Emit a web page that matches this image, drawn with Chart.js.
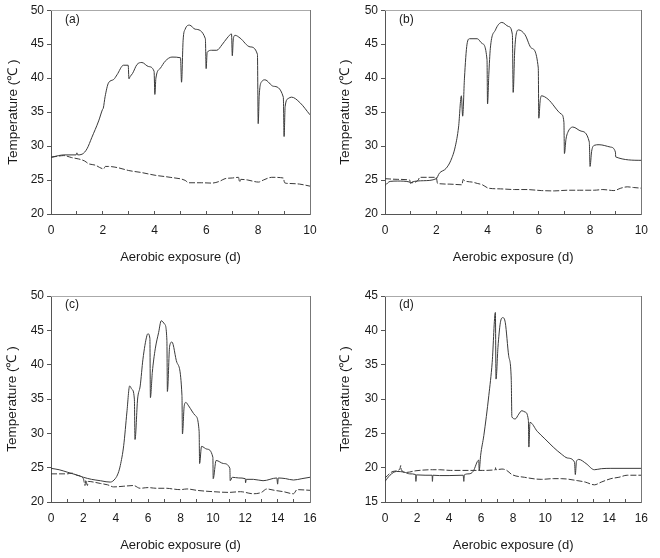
<!DOCTYPE html>
<html>
<head>
<meta charset="utf-8">
<title>Temperature during aerobic exposure</title>
<script src="https://cdn.jsdelivr.net/npm/chart.js@4.4.1/dist/chart.umd.min.js"></script>
<style>
  body { margin: 0; background: #fff; }
  #wrap { position: relative; width: 660px; height: 558px; }
  canvas { position: absolute; }
</style>
</head>
<body>
<div id="wrap">
  <canvas id="chart-a" width="330" height="279" style="left:0;top:0"></canvas>
  <canvas id="chart-b" width="330" height="279" style="left:330px;top:0"></canvas>
  <canvas id="chart-c" width="330" height="279" style="left:0;top:279px"></canvas>
  <canvas id="chart-d" width="330" height="279" style="left:330px;top:279px"></canvas>
</div>
<script>
'use strict';

/** Data */

// (a)
let aSolidX = [0, 0.3, 0.5, 0.97, 1.0, 1.03, 1.2, 1.39, 1.58, 1.84,
  1.99, 2.02, 2.09, 2.22, 2.42, 2.55, 2.8, 2.98, 3.01, 3.05,
  3.15, 3.32, 3.51, 3.77, 3.98, 4.01, 4.05, 4.22, 4.41, 4.67,
  5.0, 5.04, 5.1, 5.18, 5.35, 5.57, 5.96, 5.99, 6.03, 6.2,
  6.4, 6.6, 6.8, 6.97, 7.0, 7.04, 7.11, 7.3, 7.69, 7.97,
  8.0, 8.04, 8.14, 8.26, 8.59, 8.97, 9.0, 9.04, 9.16, 9.29,
  9.61, 10];
let aSolidY = [28.35, 28.6, 28.7, 28.7, 29.0, 28.7, 28.8, 29.6, 31.3, 33.7,
  35.4, 35.6, 37.3, 39.3, 39.8, 40.5, 41.9, 41.9, 39.9, 40.2,
  40.7, 42.0, 42.3, 41.7, 41.0, 37.6, 40.0, 41.45, 42.5, 43.1,
  43.0, 39.4, 45.5, 47.2, 47.8, 47.2, 45.8, 41.4, 43.8, 44.1,
  44.1, 44.9, 45.9, 46.5, 43.3, 45.8, 46.3, 45.9, 44.6, 43.5,
  33.3, 37.5, 39.5, 39.75, 38.8, 37.2, 31.4, 35.8, 37.0, 37.2,
  36.4, 34.6];
let aDashX = [0, 0.25, 0.49, 0.8, 1.07, 1.3, 1.45, 1.7, 2.03, 2.1,
  2.22, 2.6, 3.0, 3.5, 4.02, 4.6, 5.18, 5.31, 5.8, 6.21,
  6.5, 6.72, 7.0, 7.24, 7.28, 7.33, 7.6, 8.01, 8.2, 8.52,
  8.97, 9.02, 9.16, 9.6, 10];
let aDashY = [28.35, 28.5, 28.6, 28.3, 28.1, 27.8, 27.4, 27.2, 26.65, 27.0,
  27.0, 26.8, 26.4, 26.1, 25.7, 25.4, 24.95, 24.6, 24.6, 24.55,
  24.8, 25.2, 25.3, 25.4, 24.7, 25.1, 25.0, 24.7, 25.0, 25.4,
  25.3, 24.6, 24.5, 24.4, 24.1];

// (b)
let bSolidX = [0, 0.2, 0.5, 0.97, 1.0, 1.05, 1.5, 2.0, 2.12, 2.38,
  2.57, 2.74, 2.87, 2.98, 3.03, 3.1, 3.2, 3.3, 3.6, 3.79,
  3.98, 4.0, 4.05, 4.11, 4.31, 4.56, 4.82, 4.97, 5.0, 5.06,
  5.12, 5.21, 5.46, 5.72, 5.98, 6.0, 6.05, 6.1, 6.36, 6.88,
  6.98, 7.0, 7.06, 7.13, 7.33, 7.65, 7.97, 8.0, 8.06, 8.16,
  8.35, 8.8, 8.99, 9.0, 10];
let bSolidY = [24.2, 24.8, 24.85, 24.7, 24.5, 24.7, 24.9, 25.2, 26.0, 26.7,
  27.9, 29.9, 32.8, 37.4, 34.4, 40.0, 45.0, 45.8, 45.8, 45.1,
  42.7, 36.2, 40.5, 44.4, 47.1, 48.2, 47.6, 46.4, 37.9, 44.0,
  46.5, 47.1, 46.4, 44.4, 41.5, 34.1, 36.5, 37.4, 36.9, 34.7,
  33.5, 28.9, 31.0, 32.0, 32.8, 32.2, 30.6, 27.0, 29.2, 30.1,
  30.2, 29.85, 29.1, 28.4, 27.9];
let bDashX = [0, 0.5, 0.96, 1.0, 1.3, 1.35, 2.0, 2.05, 2.5, 3.0,
  3.05, 3.1, 3.4, 3.6, 3.8, 4.04, 4.5, 5.06, 5.5, 6.1,
  6.6, 7.13, 7.6, 8.16, 8.5, 8.93, 9.2, 9.45, 9.7, 10];
let bDashY = [25.2, 25.1, 25.0, 24.6, 25.0, 25.4, 25.4, 24.5, 24.4, 24.3,
  25.1, 24.9, 24.7, 24.5, 24.3, 23.8, 23.7, 23.6, 23.6, 23.45,
  23.4, 23.5, 23.5, 23.5, 23.6, 23.45, 23.8, 24.0, 23.9, 23.8];

// (c)
let cSolidX = [0, 0.5, 1.0, 1.5, 2.0, 2.5, 3.05, 3.4, 3.66, 3.97,
  4.15, 4.28, 4.49, 4.69, 4.86, 5.0, 5.15, 5.19, 5.35, 5.51,
  5.68, 5.92, 5.99, 6.11, 6.14, 6.26, 6.44, 6.65, 6.81, 7.02,
  7.16, 7.19, 7.33, 7.47, 7.78, 8.09, 8.12, 8.23, 8.33, 8.5,
  8.91, 9.15, 9.18, 9.3, 9.63, 10.0, 10.02, 10.2, 10.66, 11.05,
  11.07, 11.2, 11.6, 12.0, 12.02, 12.06, 12.5, 13.1, 13.95, 14.0,
  14.04, 14.5, 14.98, 15.5, 16];
let cSolidY = [24.9, 24.7, 24.35, 24.0, 23.6, 23.3, 23.1, 22.95, 22.9, 23.4,
  24.2, 25.3, 28.2, 33.1, 36.9, 36.4, 35.0, 29.1, 35.0, 36.9,
  40.8, 44.2, 44.5, 43.8, 35.2, 38.9, 42.3, 44.7, 46.4, 45.9,
  43.5, 36.1, 42.7, 43.3, 40.3, 35.5, 29.9, 34.0, 34.5, 34.0,
  32.6, 30.3, 25.6, 28.1, 27.7, 26.5, 23.4, 26.05, 25.6, 24.9,
  23.1, 23.6, 23.5, 23.4, 22.8, 23.3, 23.3, 23.1, 23.5, 22.6,
  23.5, 23.4, 23.2, 23.4, 23.6];
let cDashX = [0, 0.5, 1.0, 1.3, 1.6, 2.0, 2.1, 2.15, 2.25, 2.3,
  2.63, 3.05, 3.5, 3.87, 4.5, 5.1, 5.5, 6.0, 6.5, 7.16,
  7.5, 7.98, 8.4, 9.0, 10.04, 11.0, 11.7, 12.5, 13.0, 13.33,
  13.8, 14.36, 14.98, 15.2, 16];
let cDashY = [24.1, 24.1, 24.1, 24.2, 23.9, 23.4, 22.4, 23.2, 22.4, 23.0,
  22.9, 22.7, 22.5, 22.2, 22.3, 22.4, 22.0, 22.1, 22.0, 22.0,
  21.9, 21.8, 21.9, 21.7, 21.5, 21.4, 21.5, 21.2, 21.4, 21.9,
  21.7, 21.5, 21.2, 21.8, 21.7];

// (d)
let dSolidX = [0, 0.31, 0.72, 1.2, 1.54, 1.91, 1.93, 1.96, 2.5, 2.94,
  2.96, 2.99, 3.4, 4.0, 4.88, 4.92, 4.95, 5.25, 5.5, 5.85,
  5.88, 5.97, 6.17, 6.48, 6.69, 6.89, 6.93, 7.05, 7.2, 7.35,
  7.51, 7.72, 7.88, 7.92, 8.13, 8.35, 8.54, 8.74, 8.95, 8.98,
  9.05, 9.5, 9.98, 10.5, 11.0, 11.4, 11.83, 11.88, 11.95, 12.1,
  12.55, 13.07, 13.5, 14.1, 16];
let dSolidY = [18.0, 18.9, 19.45, 19.35, 19.1, 19.0, 18.0, 18.95, 18.9, 18.9,
  18.0, 18.9, 18.85, 18.85, 18.9, 18.0, 18.95, 19.1, 19.45, 21.1,
  19.6, 21.8, 24.7, 30.5, 35.3, 42.6, 32.9, 37.5, 41.1, 41.85,
  41.1, 36.3, 32.9, 27.4, 27.1, 27.8, 28.3, 28.1, 26.9, 23.0,
  26.6, 25.3, 24.2, 23.0, 22.0, 21.4, 20.8, 19.0, 20.9, 21.2,
  20.6, 19.7, 19.85, 19.9, 19.9];
let dDashX = [0, 0.5, 0.93, 0.98, 1.02, 1.3, 1.93, 2.96, 3.4, 4.1,
  4.84, 5.5, 6.07, 6.89, 6.9, 6.92, 7.3, 7.6, 7.92, 8.7,
  9.75, 10.5, 11.0, 12.04, 12.5, 13.07, 13.5, 14.1, 14.6, 15.12,
  16];
let dDashY = [18.5, 19.45, 19.8, 20.3, 19.7, 19.3, 19.55, 19.7, 19.7, 19.6,
  19.6, 19.6, 19.6, 19.7, 20.0, 19.7, 19.8, 19.6, 19.0, 18.6,
  18.3, 18.4, 18.4, 18.1, 17.9, 17.5, 17.9, 18.4, 18.6, 18.9,
  18.9];

/** Settings */
let fontFamily = "'Liberation Sans', Arial, sans-serif";
let lineColor = '#3a3a3a';
let axisColor = '#555';

Chart.defaults.font.family = fontFamily;
Chart.defaults.color = '#1a1a1a';

/** Helpers */
function toPoints(xs, ys) {
  let pts = [];
  for (let i = 0; i < xs.length; i++) {
    pts.push({ x: xs[i], y: ys[i] });
  }
  return pts;
}

// draws the (a)/(b)... letter inside the plot
let panelLabel = {
  id: 'panelLabel',
  afterDraw(chart, args, opts) {
    let ctx = chart.ctx;
    let area = chart.chartArea;
    ctx.save();
    ctx.font = '12px ' + fontFamily;
    ctx.fillStyle = '#1a1a1a';
    ctx.textBaseline = 'middle';
    ctx.fillText(opts.text, area.left + 14, area.top + 9);
    ctx.restore();
  }
};

function makePanel(id, p) {
  let ctx = document.getElementById(id);
  let chartObj = {
    type: 'line',
    data: {
      datasets: [{
        data: toPoints(p.solidX, p.solidY),
        borderColor: lineColor,
        borderWidth: 1,
        pointRadius: 0,
        cubicInterpolationMode: 'monotone'
      },
      {
        data: toPoints(p.dashX, p.dashY),
        borderColor: lineColor,
        borderWidth: 1,
        borderDash: [6, 2],
        pointRadius: 0,
        cubicInterpolationMode: 'monotone'
      }]
    },
    options: {
      responsive: false,
      animation: false,
      devicePixelRatio: 1,
      layout: { padding: { left: 0, right: 330 - p.right, top: p.top, bottom: 0 } },
      plugins: {
        legend: { display: false },
        tooltip: { enabled: false },
        panelLabel: { text: p.label }
      },
      scales: {
        x: {
          type: 'linear',
          min: 0,
          max: p.xMax,
          ticks: {
            stepSize: 1,
            autoSkip: false,
            maxRotation: 0,
            padding: 12,
            font: { size: 12 },
            callback: (v) => (v % 2 === 0 ? v : '')
          },
          grid: { drawOnChartArea: false, tickLength: -3, color: axisColor },
          border: { color: axisColor, width: 1 },
          title: {
            display: true,
            text: 'Aerobic exposure (d)',
            font: { size: 13 },
            padding: { top: 0, bottom: p.xTitlePad }
          },
          afterFit: (s) => { s.height = 279 - p.bottom; }
        },
        y: {
          type: 'linear',
          min: p.yMin,
          max: p.yMax,
          ticks: { stepSize: 5, padding: 3, font: { size: 12 } },
          grid: { drawOnChartArea: false, tickLength: 4, color: axisColor },
          border: { color: axisColor, width: 1 },
          title: {
            display: true,
            text: 'Temperature (℃ )',
            font: { size: 13.5 },
            padding: { top: p.yTitlePad, bottom: 0 }
          },
          afterFit: (s) => { s.width = p.left; }
        },
        xTop: {
          type: 'linear',
          position: 'top',
          min: 0,
          max: 1,
          ticks: { display: false },
          grid: { display: false, drawTicks: false },
          border: { color: '#aaa', width: 1 },
          afterFit: (s) => { s.height = 0; }
        },
        yRight: {
          type: 'linear',
          position: 'right',
          min: 0,
          max: 1,
          ticks: { display: false },
          grid: { display: false, drawTicks: false },
          border: { color: '#777', width: 1 },
          afterFit: (s) => { s.width = 0; }
        }
      }
    },
    plugins: [panelLabel]
  };
  return new Chart(ctx, chartObj);
}

/** Executables */
makePanel('chart-a', {
  label: '(a)', solidX: aSolidX, solidY: aSolidY, dashX: aDashX, dashY: aDashY,
  xMax: 10, yMin: 20, yMax: 50,
  left: 51, right: 310, top: 8, bottom: 214, yTitlePad: 5, xTitlePad: 14
});
makePanel('chart-b', {
  label: '(b)', solidX: bSolidX, solidY: bSolidY, dashX: bDashX, dashY: bDashY,
  xMax: 10, yMin: 20, yMax: 50,
  left: 55, right: 314, top: 8, bottom: 214, yTitlePad: 7, xTitlePad: 14
});
makePanel('chart-c', {
  label: '(c)', solidX: cSolidX, solidY: cSolidY, dashX: cDashX, dashY: cDashY,
  xMax: 16, yMin: 20, yMax: 50,
  left: 51, right: 310, top: 17, bottom: 223, yTitlePad: 4, xTitlePad: 5
});
makePanel('chart-d', {
  label: '(d)', solidX: dSolidX, solidY: dSolidY, dashX: dDashX, dashY: dDashY,
  xMax: 16, yMin: 15, yMax: 45,
  left: 55, right: 314, top: 17, bottom: 223, yTitlePad: 7, xTitlePad: 5
});
</script>
</body>
</html>
